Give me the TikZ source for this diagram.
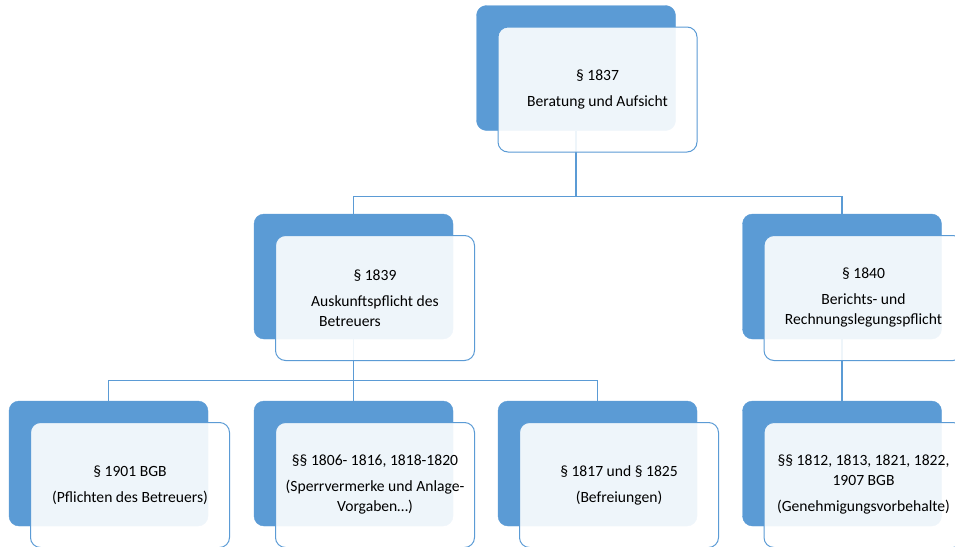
\documentclass[tikz,border=0pt]{standalone}
\usepackage{fontspec}
\setmainfont{Carlito}
\usetikzlibrary{positioning,backgrounds}
\definecolor{officeblue}{HTML}{5B9BD5}

\begin{document}
\begin{tikzpicture}[x=1pt,y=1pt,
  back/.style={rectangle,rounded corners=10pt,fill=officeblue,draw=officeblue,
    minimum width=199pt,minimum height=125pt,inner sep=0pt},
  front/.style={rectangle,rounded corners=10pt,fill=white,fill opacity=0.9,text opacity=1,
    draw=officeblue,line width=1pt,minimum width=199pt,minimum height=125pt,
    inner sep=0pt,align=center,font=\fontsize{15.6}{20}\selectfont},
  conn/.style={draw=officeblue,line width=1.1pt}]
\useasboundingbox (0,0) rectangle (955,-546);
% level 1
\node[back] (b1) at (576,-68) {};
\node[front] (f1) at ([shift={(21.5,-21.5)}]b1.center) {§ 1837\\[6pt]Beratung und Aufsicht};
% level 2
\node[back] (b2) at (353.5,-276.5) {};
\node[front] (f2) at ([shift={(21.5,-21.5)}]b2.center) {§ 1839\\[6pt]Auskunftspflicht des\\\hspace*{-50pt}Betreuers};
\node[back] (b3) at (842,-276.5) {};
\node[front] (f3) at ([shift={(21.5,-21.5)}]b3.center) {§ 1840\\[6pt]Berichts- und\\Rechnungslegungspflicht};
% level 3
\node[back] (b4) at (108.5,-463.5) {};
\node[front] (f4) at ([shift={(21.5,-21.5)}]b4.center) {§ 1901 BGB\\[6pt](Pflichten des Betreuers)};
\node[back] (b5) at (353.5,-463.5) {};
\node[front] (f5) at ([shift={(21.5,-21.5)}]b5.center) {§§ 1806- 1816, 1818-1820\\[6pt](Sperrvermerke und Anlage-\\Vorgaben…)};
\node[back] (b6) at (597.5,-463.5) {};
\node[front] (f6) at ([shift={(21.5,-21.5)}]b6.center) {§ 1817 und § 1825\\[6pt](Befreiungen)};
\node[back] (b7) at (842,-463.5) {};
\node[front] (f7) at ([shift={(21.5,-21.5)}]b7.center) {§§ 1812, 1813, 1821, 1822,\\1907 BGB\\[6pt](Genehmigungsvorbehalte)};
% connectors behind the boxes
\begin{scope}[on background layer]
\draw[conn] (b1.south) -- ++(0,-66) -| (b2.north);
\draw[conn] (b1.south) -- ++(0,-66) -| (b3.north);
\draw[conn] (b2.south) -- ++(0,-41) -| (b4.north);
\draw[conn] (b2.south) -- (b5.north);
\draw[conn] (b2.south) -- ++(0,-41) -| (b6.north);
\draw[conn] (b3.south) -- (b7.north);
\end{scope}
\end{tikzpicture}
\end{document}
